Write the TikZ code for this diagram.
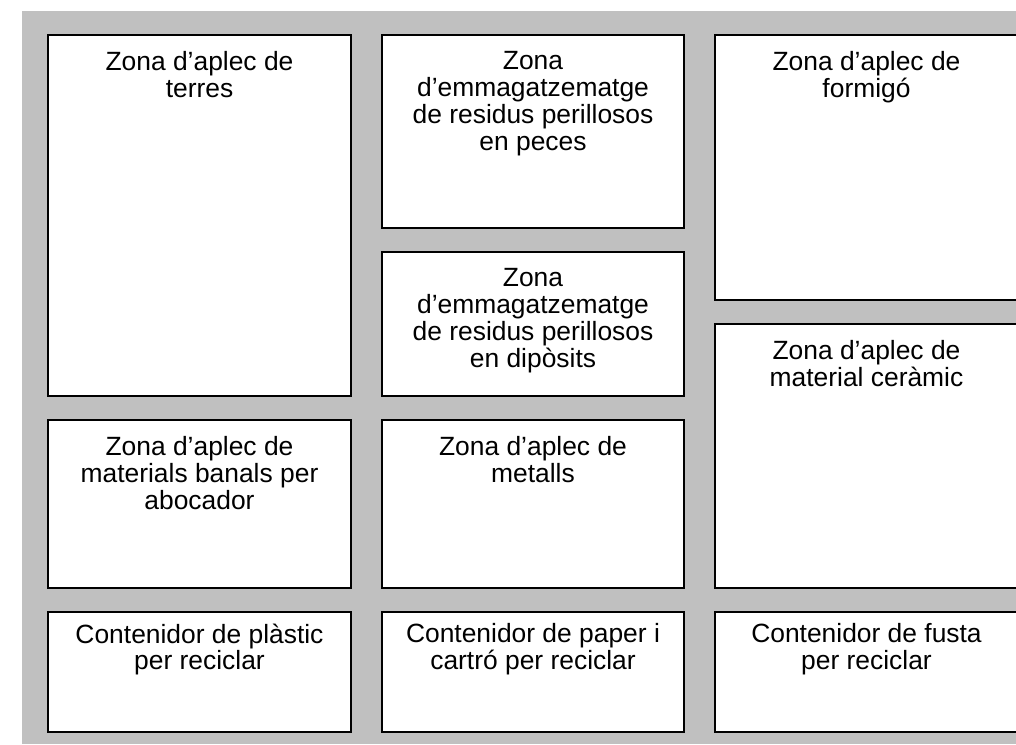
\documentclass[tikz,border=0pt]{standalone}
\usepackage{fontspec}
\setmainfont{Liberation Sans}
\usetikzlibrary{positioning}
\definecolor{bggray}{RGB}{192,192,192}
\tikzset{
  zone/.style={draw=black, fill=white, line width=2pt, rectangle, inner sep=0pt, outer sep=0pt, anchor=north west},
  txt/.style={inner sep=0pt, align=center, font=\fontsize{26.4}{26.8}\selectfont}
}
\begin{document}
\begin{tikzpicture}[x=1pt,y=-1pt]
\useasboundingbox (0,0) rectangle (1016,744);
\clip (0,0) rectangle (1016,744);
\fill[bggray] (22,11) rectangle (1016,744);
% column 1
\node[zone, minimum width=303pt, minimum height=361pt] (b1) at (48,35) {};
\node[zone, minimum width=303pt, minimum height=168pt] (b2) at (48,420) {};
\node[zone, minimum width=303pt, minimum height=120pt] (b3) at (48,612) {};
% column 2
\node[zone, minimum width=302pt, minimum height=193pt] (c1) at (382,35) {};
\node[zone, minimum width=302pt, minimum height=144pt] (c2) at (382,252) {};
\node[zone, minimum width=302pt, minimum height=168pt] (c3) at (382,420) {};
\node[zone, minimum width=302pt, minimum height=120pt] (c4) at (382,612) {};
% column 3
\node[zone, minimum width=303pt, minimum height=265pt] (d1) at (715,35) {};
\node[zone, minimum width=303pt, minimum height=264pt] (d2) at (715,324) {};
\node[zone, minimum width=303pt, minimum height=120pt] (d3) at (715,612) {};
% texts
\node[txt, below=16.5pt of b1.north] (tb1) {Zona d’aplec de\\terres};
\node[txt, below=16.5pt of b2.north] (tb2) {Zona d’aplec de\\materials banals per\\abocador};
\node[txt, below=11.5pt of b3.north] (tb3) {Contenidor de plàstic\\per reciclar};
\node[txt, below=16.5pt of c1.north] (tc1) {Zona\\d’emmagatzematge\\de residus perillosos\\en peces};
\node[txt, below=16.5pt of c2.north] (tc2) {Zona\\d’emmagatzematge\\de residus perillosos\\en dipòsits};
\node[txt, below=16.5pt of c3.north] (tc3) {Zona d’aplec de\\metalls};
\node[txt, below=11.5pt of c4.north] (tc4) {Contenidor de paper i\\cartró per reciclar};
\node[txt, below=16.5pt of d1.north] (td1) {Zona d’aplec de\\formigó};
\node[txt, below=16.5pt of d2.north] (td2) {Zona d’aplec de\\material ceràmic};
\node[txt, below=11.5pt of d3.north] (td3) {Contenidor de fusta\\per reciclar};
\end{tikzpicture}
\end{document}
